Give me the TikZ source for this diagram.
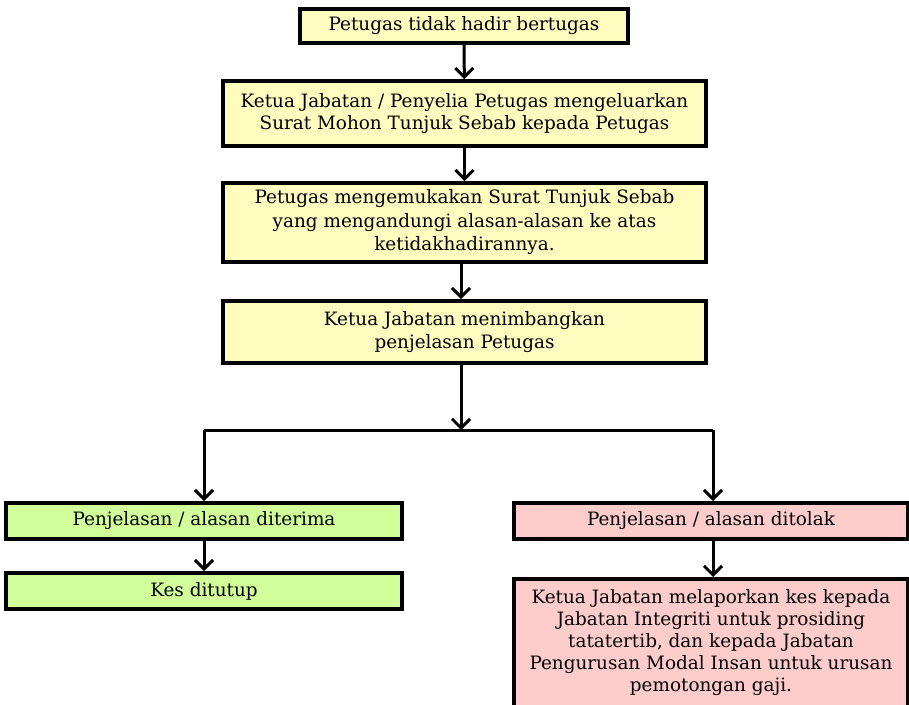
\documentclass[tikz,border=0pt]{standalone}
\usepackage{fontspec}
\setmainfont{DejaVu Serif}
\usetikzlibrary{arrows.meta,calc}
\tikzset {>={Straight Barb[length=9pt,width=18pt,line width=3pt]}}
\tikzset{
  kotak/.style={draw=black,line width=3.8pt,align=center,inner sep=2pt,
    font=\fontsize{18.4}{22.5}\selectfont},
  kuning/.style={kotak,fill=yellow!25},
  hijau/.style={kotak,fill=green!45!yellow!40},
  merah/.style={kotak,fill=red!20},
  aliran/.style={line width=3pt}
}

\begin{document}
\begin{tikzpicture}[x=1pt,y=-1pt]
\useasboundingbox (0,0) rectangle (909,704);

\node[kuning,minimum width=328pt,minimum height=34pt] (tidakhadir)
  at (464,26) {Petugas tidak hadir bertugas};
\node[kuning,minimum width=483pt,minimum height=65pt] (surat)
  at (464.5,113.5) {Ketua Jabatan / Penyelia Petugas mengeluarkan\\
  Surat Mohon Tunjuk Sebab kepada Petugas};
\node[kuning,minimum width=483pt,minimum height=79pt] (tunjuk)
  at (464.5,222.5) {Petugas mengemukakan Surat Tunjuk Sebab\\[1pt]
  yang mengandungi alasan-alasan ke atas\\[1pt] ketidakhadirannya.};
\node[kuning,minimum width=483pt,minimum height=62pt] (timbang)
  at (464.5,332) {Ketua Jabatan menimbangkan\\ penjelasan Petugas};

\node[hijau,minimum width=396pt,minimum height=36pt] (terima)
  at (204,521) {Penjelasan / alasan diterima};
\node[hijau,minimum width=396pt,minimum height=36pt] (tutup)
  at (204,591) {Kes ditutup};

\node[merah,minimum width=394pt,minimum height=36pt] (tolak)
  at (711,521) {Penjelasan / alasan ditolak};
\node[merah,minimum width=394pt,minimum height=128pt,anchor=north,
  font=\fontsize{18.4}{22}\selectfont] (lapor)
  at (711,577) {Ketua Jabatan melaporkan kes kepada\\
  Jabatan Integriti untuk prosiding\\ tatatertib, dan kepada Jabatan\\
  Pengurusan Modal Insan untuk urusan\\ pemotongan gaji.};

\coordinate (cabang) at (461,430);
\coordinate (kiri) at (204,430);
\coordinate (kanan) at (713,430);

\draw[aliran,->] (tidakhadir) -- (surat);
\draw[aliran,->] (surat) -- (tunjuk);
\draw[aliran,->] (tunjuk.south -| cabang) -- (timbang.north -| cabang);
\draw[aliran,->] (timbang.south -| cabang) -- (cabang);
\draw[aliran] (kiri) -- (kanan);
\draw[aliran,->] (kiri) -- (kiri |- terima.north);
\draw[aliran,->] (kanan) -- (kanan |- tolak.north);
\draw[aliran,->] (terima) -- (tutup);
\draw[aliran,->] (tolak.south -| kanan) -- (lapor.north -| kanan);
\end{tikzpicture}
\end{document}
